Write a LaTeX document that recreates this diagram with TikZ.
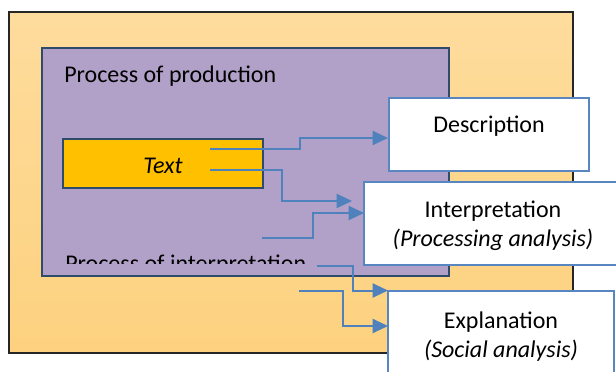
\documentclass[tikz,border=0pt]{standalone}
\usepackage{fontspec}
\setmainfont{Carlito}
\usetikzlibrary{arrows.meta,fit}
\definecolor{outertop}{HTML}{FEDC9D}
\definecolor{outerbot}{HTML}{FDD17F}
\definecolor{purplefill}{HTML}{B1A0C7}
\definecolor{navyline}{HTML}{2F4B6C}
\definecolor{textfill}{HTML}{FFC000}
\definecolor{blueline}{HTML}{4F81BD}
\definecolor{boxline}{HTML}{5786C1}
\tikzset{
  region/.style={inner sep=0pt, outer sep=0pt},
  outerbox/.style={region, draw=black!85, line width=1.1pt, top color=outertop, bottom color=outerbot},
  procbox/.style={region, draw=navyline, line width=1.9pt, fill=purplefill},
  textbox/.style={region, draw=navyline, line width=1.9pt, fill=textfill},
  stagebox/.style={region, draw=boxline, line width=1.6pt, fill=white},
  lbl/.style={inner sep=0pt, font=\fontsize{18pt}{21.6pt}\selectfont},
  flow/.style={draw=blueline, line width=1.5pt, -{Triangle[length=11.5pt,width=10.5pt]}},
}
\begin{document}
\begin{tikzpicture}[x=0.75pt,y=-0.75pt]
\useasboundingbox (0,0) rectangle (616,371);
\clip (0,0) rectangle (616,371);
% boxes
\node[outerbox, fit={(9,12) (573,353)}] (outer) {};
\node[procbox, fit={(42,48) (449,276)}] (proc) {};
\node[textbox, fit={(63,139) (263,188)}] (textb) {};
\node[lbl, anchor=base west] (prodlbl) at (64,82) {Process of production};
\node[lbl, anchor=base, font=\fontsize{18pt}{21.6pt}\selectfont\itshape] (textlbl) at (163,173) {Text};
\begin{scope}
\clip (44,240) rectangle (330,263.5);
\node[lbl, anchor=base west] (interplbl) at (65,271) {Process of interpretation};
\end{scope}
% arrow end points
\coordinate (s1) at (210,149);
\coordinate (e1) at (388,138);
\coordinate (s2) at (210,170);
\coordinate (e2) at (352,201);
\coordinate (s3) at (262,238);
\coordinate (e3) at (364,213);
\coordinate (s4) at (317,265.5);
\coordinate (e4) at (388,290.5);
\coordinate (s5) at (299,290.5);
\coordinate (e5) at (388,326);
\draw[flow] (s1) -- (300,149) -- (300,138) -- (e1);
\draw[flow] (s2) -- (281.5,170) -- (281.5,201) -- (e2);
\draw[flow] (s3) -- (313,238) -- (313,213) -- (e3);
\draw[flow] (s4) -- (352.5,265.5) -- (352.5,290.5) -- (e4);
\draw[flow] (s5) -- (343,290.5) -- (343,326) -- (e5);
% stage boxes
\node[stagebox, fit={(389,98) (589,171)}] (desc) {};
\node[stagebox, fit={(364,182) (622,265)}] (interp) {};
\node[stagebox, fit={(388,291) (614,385)}] (expl) {};
\node[lbl, anchor=base] (desclbl) at (489,132) {Description};
\node[lbl, anchor=base] (interplbl1) at (493,217) {Interpretation};
\node[lbl, anchor=base] (interplbl2) at (493,246) {\itshape (Processing analysis)};
\node[lbl, anchor=base] (expllbl1) at (501,328.5) {Explanation};
\node[lbl, anchor=base] (expllbl2) at (501,357) {\itshape (Social analysis)};
\end{tikzpicture}
\end{document}
